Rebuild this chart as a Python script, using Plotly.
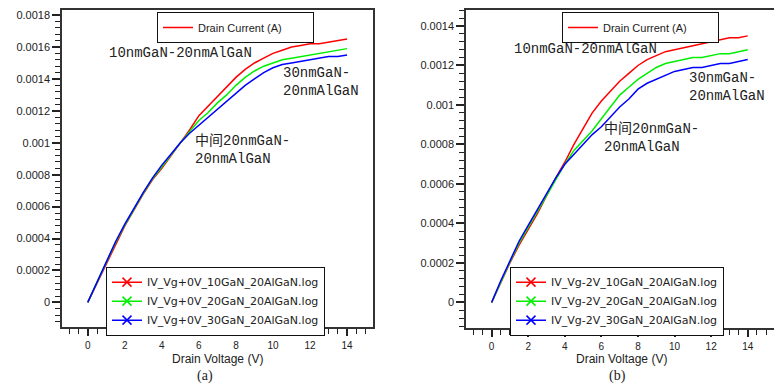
import plotly.graph_objects as go

# ---------------- data ----------------
voltage = [0, 0.5, 1, 1.5, 2, 2.5, 3, 3.5, 4, 4.5, 5, 5.5, 6, 6.5, 7, 7.5, 8,
           8.5, 9, 9.5, 10, 10.5, 11, 11.5, 12, 12.5, 13, 13.5, 14]

# (a) Vg = +0 V
a_10nm = [0, 0.00012, 0.00025, 0.00037, 0.00048, 0.00058, 0.00068, 0.00077, 0.00084,
          0.00092, 0.00100, 0.00108, 0.00117, 0.00123, 0.00129, 0.00135, 0.00141,
          0.00146, 0.00150, 0.00153, 0.00156, 0.00158, 0.00160, 0.00161, 0.00162,
          0.00162, 0.00163, 0.00164, 0.00165]
a_20nm = [0, 0.000125, 0.000255, 0.000375, 0.000485, 0.000585, 0.000685, 0.000775, 0.000852,
          0.000925, 0.00100, 0.00107, 0.00114, 0.00119, 0.00125, 0.00130, 0.00136,
          0.00141, 0.00145, 0.00148, 0.00150, 0.00152, 0.00153, 0.00154, 0.00155,
          0.00156, 0.00157, 0.00158, 0.00159]
a_30nm = [0, 0.00013, 0.00026, 0.00038, 0.00049, 0.00059, 0.00069, 0.00078, 0.00086,
          0.00093, 0.00100, 0.00106, 0.00111, 0.00116, 0.00121, 0.00126, 0.00131,
          0.00136, 0.00140, 0.00144, 0.00147, 0.00149, 0.00150, 0.00151, 0.00152,
          0.00153, 0.00154, 0.00154, 0.00155]

# (b) Vg = -2 V
b_10nm = [0, 0.00010, 0.00020, 0.00029, 0.00037, 0.00045, 0.00054, 0.00063, 0.00071,
          0.00080, 0.00088, 0.00096, 0.00102, 0.00107, 0.00112, 0.00116, 0.00120,
          0.00123, 0.00125, 0.00127, 0.00128, 0.00129, 0.00130, 0.00131, 0.00132,
          0.00133, 0.00134, 0.00134, 0.00135]
b_20nm = [0, 0.000105, 0.000205, 0.00030, 0.00038, 0.00046, 0.00054, 0.00062, 0.00070,
          0.00077, 0.00082, 0.00087, 0.00093, 0.00099, 0.00105, 0.00109, 0.00113,
          0.00116, 0.00119, 0.00121, 0.00122, 0.00123, 0.00124, 0.00124, 0.00125,
          0.00126, 0.00126, 0.00127, 0.00128]
b_30nm = [0, 0.00011, 0.00021, 0.00031, 0.00039, 0.00047, 0.00055, 0.00063, 0.00070,
          0.00075, 0.00080, 0.00085, 0.00089, 0.00094, 0.00099, 0.00103, 0.00108,
          0.00111, 0.00113, 0.00115, 0.00117, 0.00118, 0.00119, 0.00119, 0.00120,
          0.00121, 0.00121, 0.00122, 0.00123]

x_tickvals = [0, 2, 4, 6, 8, 10, 12, 14]
x_ticktext = ["0", "2", "4", "6", "8", "10", "12", "14"]
a_tickvals = [0, 0.0002, 0.0004, 0.0006, 0.0008, 0.001, 0.0012, 0.0014, 0.0016, 0.0018]
a_ticktext = ["0", "0.0002", "0.0004", "0.0006", "0.0008", "0.001", "0.0012", "0.0014", "0.0016", "0.0018"]
b_tickvals = [0, 0.0002, 0.0004, 0.0006, 0.0008, 0.001, 0.0012, 0.0014]
b_ticktext = ["0", "0.0002", "0.0004", "0.0006", "0.0008", "0.001", "0.0012", "0.0014"]

a_names = ["IV_Vg+0V_10GaN_20AlGaN.log", "IV_Vg+0V_20GaN_20AlGaN.log", "IV_Vg+0V_30GaN_20AlGaN.log"]
b_names = ["IV_Vg-2V_10GaN_20AlGaN.log", "IV_Vg-2V_20GaN_20AlGaN.log", "IV_Vg-2V_30GaN_20AlGaN.log"]
colors = ["#ff0000", "#00ee00", "#0000ff"]
top_legend_name = "Drain Current (A)"
x_title = "Drain Voltage (V)"

# ---------------- figure ----------------
fig = go.Figure()

# the page body has an 8px margin; lay out in window pixels and shift
OFF = 8
W, H = 782 - OFF, 386 - OFF


def px_x(p):
    return min(1.0, max(0.0, (p - OFF) / W))


def px_y(p):
    return min(1.0, max(0.0, 1 - (p - OFF) / H))


panels = [
    dict(series=[a_10nm, a_20nm, a_30nm], names=a_names, xa="x", ya="y",
         topleg="legend", botleg="legend2"),
    dict(series=[b_10nm, b_20nm, b_30nm], names=b_names, xa="x2", ya="y2",
         topleg="legend3", botleg="legend4"),
]

for p in panels:
    fig.add_trace(go.Scatter(x=[None], y=[None], mode="lines", name=top_legend_name,
                             line=dict(color="#ff0000", width=1.5),
                             xaxis=p["xa"], yaxis=p["ya"], legend=p["topleg"]))
    for s, n, c in zip(p["series"], p["names"], colors):
        fig.add_trace(go.Scatter(x=voltage, y=s, mode="lines", showlegend=False,
                                 line=dict(color=c, width=1.5),
                                 xaxis=p["xa"], yaxis=p["ya"]))
        fig.add_trace(go.Scatter(x=[None], y=[None], mode="lines+markers", name=n,
                                 line=dict(color=c, width=1.5),
                                 marker=dict(symbol="x-thin", size=9,
                                             line=dict(color=c, width=1.5)),
                                 xaxis=p["xa"], yaxis=p["ya"], legend=p["botleg"]))

ytickfont = dict(family="Liberation Sans, Arial, sans-serif", size=11, color="#222")
xtickfont = dict(family="Liberation Sans, Arial, sans-serif", size=10, color="#222")


def xaxis_cfg(domain, rng, anchor):
    return dict(domain=domain, range=rng, anchor=anchor,
                showline=True, linecolor="#333", linewidth=1.5, mirror=True,
                showgrid=False, zeroline=False,
                tickmode="array", tickvals=x_tickvals, ticktext=x_ticktext,
                ticks="outside", ticklen=7, tickwidth=2, tickcolor="#222",
                ticklabelstandoff=1,
                minor=dict(tickmode="linear", tick0=0, dtick=0.5, ticks="outside",
                           ticklen=5, tickwidth=1, tickcolor="#222"),
                tickfont=xtickfont)


def yaxis_cfg(domain, rng, anchor, tv, tt):
    return dict(domain=domain, range=rng, anchor=anchor,
                showline=True, linecolor="#333", linewidth=1.5, mirror=True,
                showgrid=False, zeroline=False,
                tickmode="array", tickvals=tv, ticktext=tt,
                ticks="outside", ticklen=8, tickwidth=2, tickcolor="#222",
                minor=dict(tickmode="linear", tick0=0, dtick=0.00004, ticks="outside",
                           ticklen=5, tickwidth=1, tickcolor="#222"),
                tickfont=ytickfont)


a_xdom = [px_x(62), px_x(373)]
a_ydom = [px_y(327), px_y(8)]
b_xdom = [px_x(466), px_x(777)]
b_ydom = [px_y(328), px_y(8)]

leg_common = dict(bgcolor="white", bordercolor="#111", borderwidth=1,
                  xanchor="left", yanchor="top", tracegroupgap=0,
                  itemclick=False, itemdoubleclick=False)
top_font = dict(family="Liberation Sans, Arial, sans-serif", size=11, color="#222")
bot_font = dict(family="DejaVu Sans, sans-serif", size=11, color="#222")

fig.update_layout(
    width=W, height=H,
    margin=dict(l=0, r=0, t=0, b=0),
    paper_bgcolor="white", plot_bgcolor="white",
    xaxis=xaxis_cfg(a_xdom, [-1.39, 15.4], "y"),
    yaxis=yaxis_cfg(a_ydom, [-0.000156, 0.001832], "x", a_tickvals, a_ticktext),
    xaxis2=xaxis_cfg(b_xdom, [-1.4, 15.6], "y2"),
    yaxis2=yaxis_cfg(b_ydom, [-0.000131, 0.001481], "x2", b_tickvals, b_ticktext),
    legend=dict(x=px_x(157), y=px_y(10), font=top_font, orientation="h",
                entrywidth=110, **leg_common),
    legend2=dict(x=px_x(106), y=px_y(266), font=bot_font, **leg_common),
    legend3=dict(x=px_x(562), y=px_y(10), font=top_font, orientation="h",
                 entrywidth=110, **leg_common),
    legend4=dict(x=px_x(510), y=px_y(266), font=bot_font, **leg_common),
)

ann_font = dict(family="Liberation Mono, Noto Sans CJK SC, monospace", size=14, color="#222")
labels_a = [
    ("10nmGaN-20nmAlGaN", 1.04, 0.00156),
    ("30nmGaN-<br>20nmAlGaN", 10.45, 0.00138),
    ("中间20nmGaN-<br>20nmAlGaN", 5.7, 0.000956),
]
labels_b = [
    ("10nmGaN-20nmAlGaN", 1.11, 0.001285),
    ("30nmGaN-<br>20nmAlGaN", 10.67, 0.001093),
    ("中间20nmGaN-<br>20nmAlGaN", 6.03, 0.000834),
]
for (t, xv, yv) in labels_a:
    fig.add_annotation(text=t, x=xv, y=yv, xref="x", yref="y", showarrow=False,
                       xanchor="left", yanchor="middle", align="left", font=ann_font)
for (t, xv, yv) in labels_b:
    fig.add_annotation(text=t, x=xv, y=yv, xref="x2", yref="y2", showarrow=False,
                       xanchor="left", yanchor="middle", align="left", font=ann_font)

title_font = dict(family="Liberation Sans, Arial, sans-serif", size=12, color="#222")
for dom in (a_xdom, b_xdom):
    fig.add_annotation(text=x_title, x=(dom[0] + dom[1]) / 2, y=px_y(359), xref="paper",
                       yref="paper", showarrow=False, xanchor="center", yanchor="middle",
                       font=title_font)
cap_font = dict(family="Liberation Serif, Noto Sans CJK SC, serif", size=14, color="#222")
fig.add_annotation(text="(a)", x=px_x(205), y=px_y(376), xref="paper", yref="paper",
                   showarrow=False, xanchor="center", yanchor="middle", font=cap_font)
fig.add_annotation(text="(b)", x=px_x(617), y=px_y(376), xref="paper", yref="paper",
                   showarrow=False, xanchor="center", yanchor="middle", font=cap_font)

fig.write_html("out.html")
